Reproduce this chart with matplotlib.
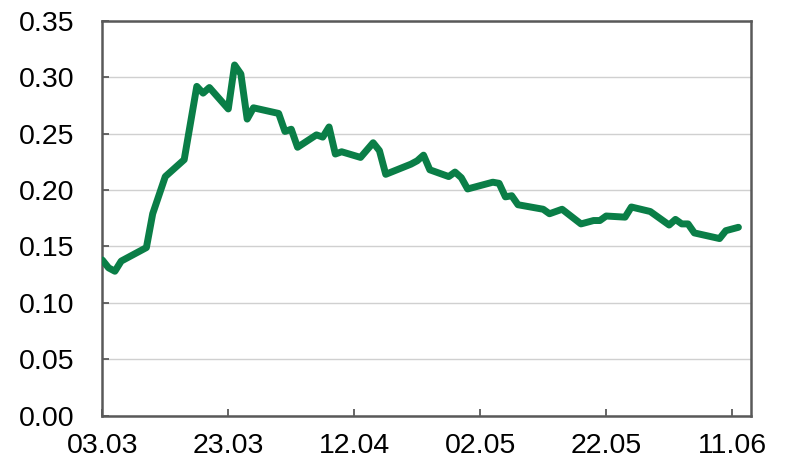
import matplotlib
matplotlib.use("Agg")
import matplotlib.pyplot as plt
import matplotlib.dates as mdates
from datetime import datetime

plt.rcParams['font.family'] = ['Liberation Sans', 'DejaVu Sans']

dates = ["03.03", "04.03", "05.03", "06.03", "10.03", "11.03", "13.03", "16.03",
         "18.03", "19.03", "20.03", "23.03", "24.03", "25.03", "26.03", "27.03",
         "31.03", "01.04", "02.04", "03.04", "06.04", "07.04", "08.04", "09.04",
         "10.04", "13.04", "15.04", "16.04", "17.04", "21.04", "22.04", "23.04",
         "24.04", "27.04", "28.04", "29.04", "30.04", "04.05", "05.05", "06.05",
         "07.05", "08.05", "12.05", "13.05", "15.05", "18.05", "20.05", "21.05",
         "22.05", "25.05", "26.05", "29.05", "01.06", "02.06", "03.06", "04.06",
         "05.06", "09.06", "10.06", "12.06"]
values = [0.138, 0.131, 0.128, 0.137, 0.149, 0.179, 0.212, 0.227,
          0.292, 0.286, 0.291, 0.272, 0.311, 0.303, 0.263, 0.273,
          0.268, 0.252, 0.254, 0.238, 0.249, 0.247, 0.256, 0.232,
          0.234, 0.229, 0.242, 0.235, 0.214, 0.223, 0.226, 0.231,
          0.218, 0.212, 0.216, 0.211, 0.201, 0.207, 0.206, 0.194,
          0.195, 0.187, 0.183, 0.179, 0.183, 0.170, 0.173, 0.173,
          0.177, 0.176, 0.185, 0.181, 0.169, 0.174, 0.170, 0.170,
          0.162, 0.157, 0.164, 0.167]
year = 2020
x_tick_labels = ["03.03", "23.03", "12.04", "02.05", "22.05", "11.06"]
y_ticks = [0.00, 0.05, 0.10, 0.15, 0.20, 0.25, 0.30, 0.35]
x_start, x_end = "03.03", "14.06"

def parse(s):
    return datetime.strptime(f"{s}.{year}", "%d.%m.%Y")

xs = [parse(d) for d in dates]

fig = plt.figure(figsize=(7.87, 4.62), dpi=100)
ax = fig.add_axes([0.130, 0.1006, 0.8243, 0.8539])

ax.plot(xs, values, color='#0a7e47', lw=5.0, solid_joinstyle='round',
        solid_capstyle='round', zorder=3)

ax.set_xlim(parse(x_start), parse(x_end))
ax.set_ylim(0, 0.35)
ax.set_yticks(y_ticks)
ax.set_yticklabels([f"{v:.2f}" for v in y_ticks])
ax.set_xticks([parse(t) for t in x_tick_labels])
ax.set_xticklabels(x_tick_labels)

ax.yaxis.grid(True, color='#d0d0d0', lw=1.0, zorder=0)
ax.set_axisbelow(True)

for s in ax.spines.values():
    s.set_color('#595959')
    s.set_linewidth(1.8)

ax.tick_params(axis='both', direction='in', length=5, width=1.3,
               color='#595959', labelsize=20.5, labelcolor='black')
ax.tick_params(axis='x', pad=12.5)
ax.tick_params(axis='y', pad=20)

fig.savefig("out.png", dpi=100)
